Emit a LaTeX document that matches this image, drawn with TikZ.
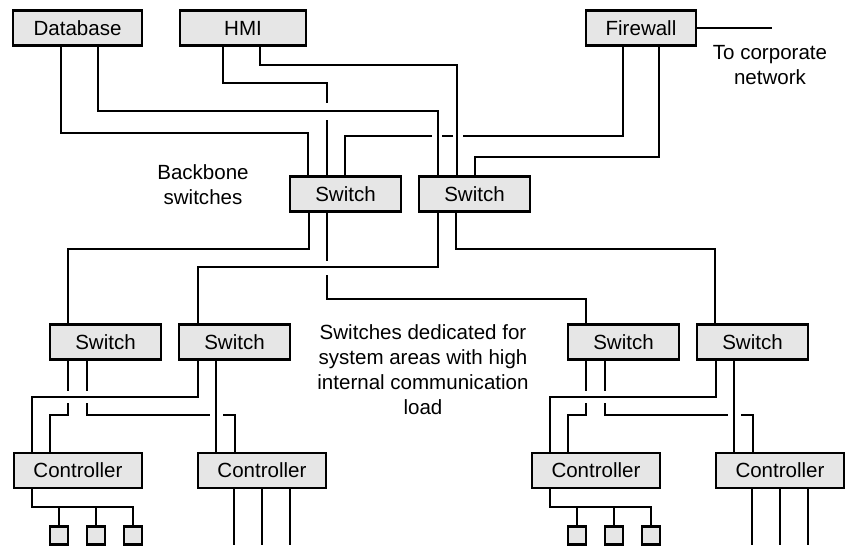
\documentclass[tikz,border=0pt]{standalone}
\usepackage{fontspec}
\setmainfont{Liberation Sans}
\definecolor{boxfill}{RGB}{230,230,230}
\begin{document}
\begin{tikzpicture}[x=0.75pt,y=-0.75pt,
  box/.style={draw=black, line width=2.2pt, fill=boxfill, inner sep=0pt,
    minimum height=26.25pt, font=\fontsize{15.4}{18.75}\selectfont},
  dev/.style={draw=black, line width=2.2pt, fill=boxfill, inner sep=0pt, minimum size=13.5pt},
  link/.style={line width=1.8pt},
  note/.style={align=center, inner sep=0pt, font=\fontsize{15.4}{18.75}\selectfont}]
\useasboundingbox (0,0) rectangle (845,550);

% central systems
\node[box, minimum width=96.75pt] (db)  at (77.5,28) {Database};
\node[box, minimum width=94.5pt]  (hmi) at (243,28)  {HMI};
\node[box, minimum width=82.5pt]  (fw)  at (641,28)  {Firewall};

% backbone switches
\node[box, minimum width=83.25pt] (sw1) at (345.5,194) {Switch};
\node[box, minimum width=83.25pt] (sw2) at (474.5,194) {Switch};

% labels
\node[note] (lbb)   at (203,185)   {Backbone\\switches};
\node[note] (lcorp) at (770,65)    {To corporate\\network};
\node[note] (lded)  at (423,370)   {Switches dedicated for\\system areas with high\\internal communication\\load};

% uplink to the corporate network
\coordinate (corp) at (772,28);
\draw[link] (fw.east) -- (corp);

% redundant links from the central systems to the backbone
\draw[link] (db.south -| 61,0) |- (308,133) -- (sw1.north -| 308,0);
\draw[link] (db.south -| 98,0) |- (438,111) -- (sw2.north -| 438,0);
\coordinate (h1) at (327,103);
\coordinate (h2) at (327,120);
\draw[link] (hmi.south -| 223,0) |- (327,83) -- (h1);
\draw[link] (h2) -- (sw1.north -| 327,0);
\draw[link] (hmi.south -| 260,0) |- (457,65) -- (sw2.north -| 457,0);
\coordinate (f1) at (463,136);
\coordinate (f2) at (453,136);
\coordinate (f3) at (442,136);
\coordinate (f4) at (432,136);
\draw[link] (fw.south -| 623,0) |- (f1);
\draw[link] (f2) -- (f3);
\draw[link] (f4) -| (sw1.north -| 345,0);
\draw[link] (fw.south -| 659,0) |- (475,157) -- (sw2.north -| 475,0);

% two identical area groups: switches, controllers and field devices
\foreach \dx/\t in {0/l,518/r}{
  \begin{scope}[shift={(\dx,0)}]
    \node[box, minimum width=83.25pt] (swa\t) at (105.5,342) {Switch};
    \node[box, minimum width=83.25pt] (swb\t) at (234.5,342) {Switch};
    \node[box, minimum width=96pt] (ca\t) at (78,470.5)  {Controller};
    \node[box, minimum width=96pt] (cb\t) at (262,470.5) {Controller};
    \node[dev] (sa\t) at (59,535.5)  {};
    \node[dev] (sb\t) at (96,535.5)  {};
    \node[dev] (sc\t) at (133,535.5) {};
    % area switches to controllers
    \coordinate (g1\t) at (68,391);
    \coordinate (g2\t) at (68,403);
    \coordinate (g3\t) at (87,391);
    \coordinate (g4\t) at (87,403);
    \coordinate (g5\t) at (210,415);
    \coordinate (g6\t) at (223,415);
    \draw[link] (swa\t.south -| 68,0) -- (g1\t);
    \draw[link] (g2\t) |- (50,415) -- (ca\t.north -| 50,0);
    \draw[link] (swa\t.south -| 87,0) -- (g3\t);
    \draw[link] (g4\t) |- (g5\t);
    \draw[link] (g6\t) -| (cb\t.north -| 235,0);
    \draw[link] (swb\t.south -| 198,0) |- (32,397) -- (ca\t.north -| 32,0);
    \draw[link] (swb\t.south -| 216,0) -- (cb\t.north -| 216,0);
    % controller to field devices
    \draw[link] (ca\t.south -| 32,0) |- (sc\t.north |- 0,507) -- (sc\t.north);
    \draw[link] (sa\t.north |- 0,507) -- (sa\t.north);
    \draw[link] (sb\t.north |- 0,507) -- (sb\t.north);
    % controller field bus lines
    \coordinate (e1\t) at (234,545);
    \coordinate (e2\t) at (262,545);
    \coordinate (e3\t) at (290,545);
    \draw[link] (cb\t.south -| e1\t) -- (e1\t);
    \draw[link] (cb\t.south -| e2\t) -- (e2\t);
    \draw[link] (cb\t.south -| e3\t) -- (e3\t);
  \end{scope}
}

% backbone to area switches
\draw[link] (sw1.south -| 309,0) |- (68,249) -- (swal.north -| 68,0);
\coordinate (m1) at (327,261);
\coordinate (m2) at (327,275);
\draw[link] (sw1.south -| 327,0) -- (m1);
\draw[link] (m2) |- (586,299) -- (swar.north -| 586,0);
\draw[link] (sw2.south -| 438,0) |- (198,267) -- (swbl.north -| 198,0);
\draw[link] (sw2.south -| 456,0) |- (715,249) -- (swbr.north -| 715,0);
\end{tikzpicture}
\end{document}
